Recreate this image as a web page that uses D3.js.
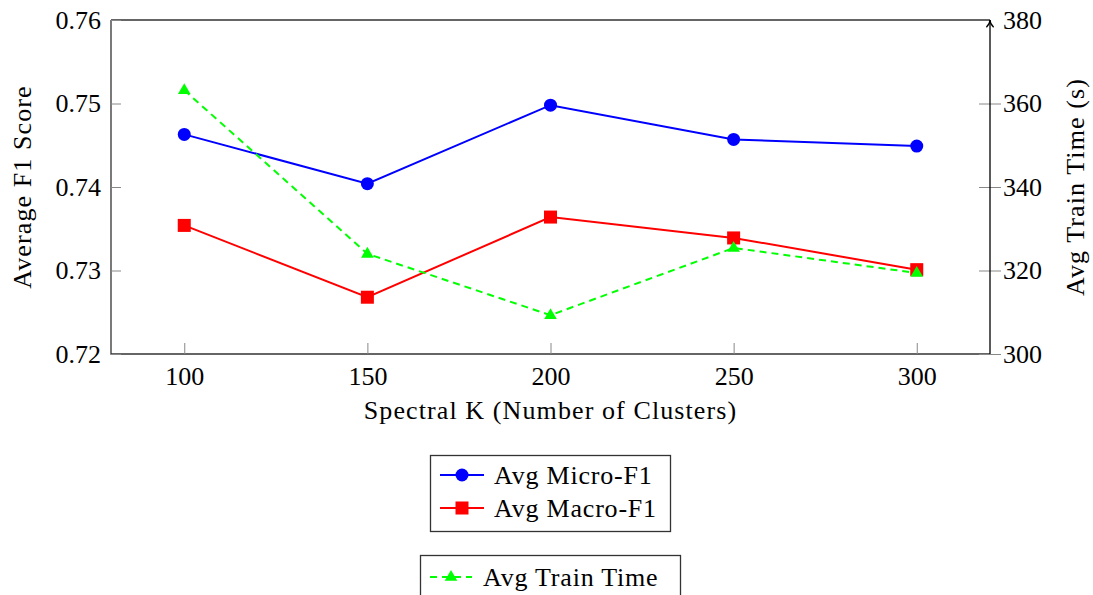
<!DOCTYPE html>
<html>
<head>
<meta charset="utf-8">
<script src="https://cdn.jsdelivr.net/npm/d3@7"></script>
<style>
  body { margin: 0; background: #fff; }
  svg text { font-family: "Liberation Serif", "DejaVu Serif", serif; fill: #000; }
</style>
</head>
<body>
<div id="chart"></div>
<script>
const kValues = [100, 150, 200, 250, 300];
const microF1 = [0.7463, 0.7404, 0.7498, 0.7457, 0.7449];
const macroF1 = [0.7354, 0.7268, 0.7364, 0.7339, 0.7301];
const trainTime = [363.2, 324.0, 309.3, 325.4, 319.4];
const xTicks = [100, 150, 200, 250, 300];
const leftTicks = [0.72, 0.73, 0.74, 0.75, 0.76];
const rightTicks = [300, 320, 340, 360, 380];

const width = 1093, height = 595;
const margin = { top: 20, right: 103, bottom: 241, left: 111 };
const fontSize = 26;
const spacing = "1.1px";

const svg = d3.select("#chart").append("svg")
    .attr("width", width).attr("height", height);

const x = d3.scaleLinear().domain([80, 320]).range([margin.left, width - margin.right]);
const yLeft = d3.scaleLinear().domain([0.72, 0.76]).range([height - margin.bottom, margin.top]);
const yRight = d3.scaleLinear().domain([300, 380]).range([height - margin.bottom, margin.top]);

const x0 = margin.left, x1 = width - margin.right;
const yTop = margin.top, yBot = height - margin.bottom;

// frame lines (left, top, bottom)
svg.append("path")
    .attr("d", `M${x0},${yTop}H${x1}M${x0},${yTop}V${yBot}H${x1}`)
    .attr("fill", "none").attr("stroke", "#333").attr("stroke-width", 1.3);

// x axis
const xAxis = d3.axisBottom(x).tickValues(xTicks).tickSize(-11).tickPadding(11).tickFormat(d3.format("d"));
const gx = svg.append("g").attr("transform", `translate(0,${yBot})`).call(xAxis);
gx.select(".domain").remove();
gx.selectAll(".tick line").attr("stroke", "#888");
gx.selectAll("text").attr("font-size", fontSize).attr("dy", "0.75em");

// left axis
const yAxisL = d3.axisLeft(yLeft).tickValues(leftTicks).tickSize(-10).tickPadding(10).tickFormat(d3.format(".2f"));
const gl = svg.append("g").attr("transform", `translate(${x0},0)`).call(yAxisL);
gl.select(".domain").remove();
gl.selectAll(".tick line").attr("stroke", "#888");
gl.selectAll("text").attr("font-size", fontSize);

// right axis with arrow
svg.append("defs").append("marker")
    .attr("id", "arrow").attr("viewBox", "0 0 10 10")
    .attr("refX", 9).attr("refY", 5)
    .attr("markerWidth", 7).attr("markerHeight", 7)
    .attr("orient", "auto")
    .append("path").attr("d", "M1,1 Q5,5 9,5 Q5,5 1,9").attr("fill", "none").attr("stroke", "#000").attr("stroke-width", 1.4);

const yAxisR = d3.axisRight(yRight).tickValues(rightTicks).tickSize(11).tickPadding(2).tickFormat(d3.format("d"));
const gr = svg.append("g").attr("transform", `translate(${x1},0)`).call(yAxisR);
gr.select(".domain").remove();
gr.selectAll(".tick line").attr("stroke", "#888").attr("x1", -11);
gr.selectAll("text").attr("font-size", fontSize);
gr.selectAll(".tick").filter(d => d === 380).select("line").remove();
svg.append("line")
    .attr("x1", x1).attr("x2", x1).attr("y1", yBot).attr("y2", yTop)
    .attr("stroke", "#000").attr("stroke-width", 1.3)
    .attr("marker-end", "url(#arrow)");

// axis titles
svg.append("text")
    .attr("x", (x0 + x1) / 2).attr("y", 419)
    .attr("text-anchor", "middle").attr("font-size", fontSize).attr("letter-spacing", spacing)
    .text("Spectral K (Number of Clusters)");
svg.append("text")
    .attr("transform", `translate(31,${(yTop + yBot) / 2}) rotate(-90)`)
    .attr("text-anchor", "middle").attr("font-size", fontSize).attr("letter-spacing", spacing)
    .text("Average F1 Score");
svg.append("text")
    .attr("transform", `translate(1084,${(yTop + yBot) / 2}) rotate(-90)`)
    .attr("text-anchor", "middle").attr("font-size", fontSize).attr("letter-spacing", spacing)
    .text("Avg Train Time (s)");

// series
const lineL = d3.line().x((d, i) => x(kValues[i])).y(d => yLeft(d));
const lineR = d3.line().x((d, i) => x(kValues[i])).y(d => yRight(d));

function drawMarker(g, shape, cx, cy, color) {
    if (shape === "circle") {
        g.append("circle").attr("cx", cx).attr("cy", cy).attr("r", 6.5).attr("fill", color);
    } else if (shape === "square") {
        g.append("rect").attr("x", cx - 6.5).attr("y", cy - 6.5).attr("width", 13).attr("height", 13).attr("fill", color);
    } else {
        const s = 7;
        g.append("path")
            .attr("d", `M${cx},${cy - s}L${cx + s * 0.9},${cy + s * 0.55}L${cx - s * 0.9},${cy + s * 0.55}Z`)
            .attr("fill", color);
    }
}

const series = [
    { values: microF1, line: lineL, scale: yLeft, color: "#0000ff", shape: "circle", dash: null },
    { values: macroF1, line: lineL, scale: yLeft, color: "#ff0000", shape: "square", dash: null },
    { values: trainTime, line: lineR, scale: yRight, color: "#00ff00", shape: "triangle", dash: "7,5" }
];

series.forEach(s => {
    const g = svg.append("g");
    g.append("path").attr("d", s.line(s.values))
        .attr("fill", "none").attr("stroke", s.color).attr("stroke-width", 2)
        .attr("stroke-dasharray", s.dash);
    s.values.forEach((v, i) => drawMarker(g, s.shape, x(kValues[i]), s.scale(v), s.color));
});

// legends
const legendF1 = [
    { label: "Avg Micro-F1", color: "#0000ff", shape: "circle" },
    { label: "Avg Macro-F1", color: "#ff0000", shape: "square" }
];
const lg1 = svg.append("g");
lg1.append("rect").attr("x", 430.5).attr("y", 455.5).attr("width", 240).attr("height", 76)
    .attr("fill", "#fff").attr("stroke", "#333").attr("stroke-width", 1.3);
legendF1.forEach((d, i) => {
    const cy = 475 + i * 33;
    lg1.append("line").attr("x1", 440).attr("x2", 484).attr("y1", cy).attr("y2", cy)
        .attr("stroke", d.color).attr("stroke-width", 2);
    drawMarker(lg1, d.shape, 462, cy, d.color);
    lg1.append("text").attr("x", 494).attr("y", cy).attr("dy", "0.35em")
        .attr("font-size", fontSize).attr("letter-spacing", "0.8px").text(d.label);
});

const lg2 = svg.append("g");
lg2.append("rect").attr("x", 420.5).attr("y", 555.5).attr("width", 260).attr("height", 60)
    .attr("fill", "#fff").attr("stroke", "#333").attr("stroke-width", 1.3);
lg2.append("line").attr("x1", 430).attr("x2", 472).attr("y1", 577).attr("y2", 577)
    .attr("stroke", "#00ff00").attr("stroke-width", 2).attr("stroke-dasharray", "7,5");
drawMarker(lg2, "triangle", 451, 577, "#00ff00");
lg2.append("text").attr("x", 483).attr("y", 577).attr("dy", "0.35em")
    .attr("font-size", fontSize).attr("letter-spacing", "0.8px").text("Avg Train Time");
</script>
</body>
</html>
